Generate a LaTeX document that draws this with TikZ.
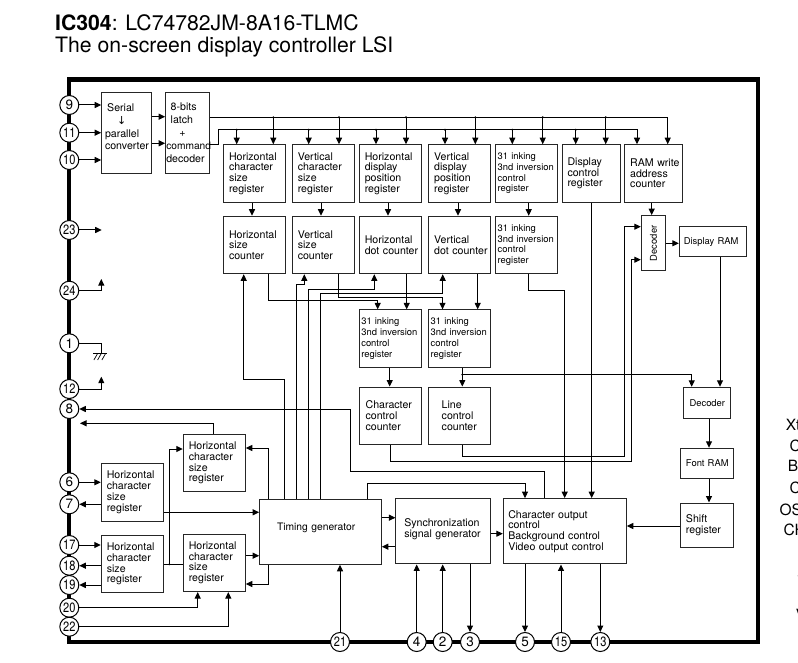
\documentclass[tikz,border=0pt]{standalone}
\usepackage{fontspec}
\setmainfont{TeX Gyre Heros}
\newfontfamily\symbolfont{DejaVu Sans}
\usetikzlibrary{arrows.meta}
\tikzset{
  sig/.style={line width=1pt, -{Triangle[length=6.5pt,width=6pt]}},
  wire/.style={line width=1pt},
  blockbox/.style={draw=black!85, line width=1pt, rectangle, inner xsep=0pt, inner ysep=0pt, align=left,
    font=\fontsize{10.6}{10.7}\selectfont},
  inset/.style={execute at begin node={\leftskip=#1\relax}},
  regbox/.style={blockbox, text width=62pt, minimum height=57.5pt, inset=5.5pt},
  smallbox/.style={regbox, inset=2pt, font=\fontsize{9.4}{10.7}\selectfont},
  pinnode/.style={draw, fill=white, circle, line width=1pt, minimum size=19pt, inner sep=0pt,
    font=\fontsize{13.5}{13.5}\selectfont},
  edgetext/.style={anchor=west, inner sep=0pt, font=\fontsize{15.5}{15.5}\selectfont},
}
\begin{document}
\begin{tikzpicture}[x=1pt, y=-1pt, line cap=butt, line join=miter]
    \useasboundingbox (0,0) rectangle (798,663);

    % title
    \node[anchor=west, inner sep=0pt, font=\fontsize{21.2}{21.2}\selectfont] (titlea) at (55,22.5) {\textbf{IC304}: LC74782JM-8A16-TLMC};
    \node[anchor=west, inner sep=0pt, font=\fontsize{21.2}{21.2}\selectfont] (titleb) at (55,47) {The on-screen display controller LSI};

    % package outline
    \draw[line width=4.2pt] (69,79.5) rectangle (758,642);

    % upper row of registers
    \node[blockbox, text width=49.6pt, minimum height=81pt, inset=3.3pt, font=\fontsize{10.6}{12.7}\selectfont] (serial) at (126.5,133.2)
        {\hspace*{2.2pt}Serial\\\hspace*{12pt}{\symbolfont\fontsize{11}{12.7}\selectfont ↓}\\parallel\\converter\\\mbox{}};
    \node[blockbox, text width=44pt, minimum height=81pt, inset=0.6pt, font=\fontsize{10.6}{13}\selectfont] (latch) at (187.7,133.2)
        {\hspace*{4.4pt}8-bits\\\hspace*{4.4pt}latch\\\hspace*{13pt}+\\{\fontsize{10.2}{13}\selectfont command}\\decoder};
    \node[regbox] (hcsr) at (254.5,173.5) {Horizontal\\character\\size\\register};
    \node[regbox] (vcsr) at (323.3,173.5) {Vertical\\character\\size\\register};
    \node[regbox] (hdpr) at (390.3,173.5) {Horizontal\\display\\position\\register};
    \node[regbox] (vdpr) at (459.7,173.5) {Vertical\\display\\position\\register};
    \node[smallbox] (inkreg) at (526.7,173.5) {31 inking\\3nd inversion\\control\\register};
    \node[regbox, text width=58pt] (dcr) at (591,173.5) {Display\\control\\register};
    \node[regbox, text width=58pt] (ramaddr) at (653.7,173.5) {RAM write\\address\\counter};

    % counters
    \node[regbox] (hsc) at (254.5,245) {Horizontal\\size\\counter};
    \node[regbox] (vsc) at (323.3,245) {Vertical\\size\\counter};
    \node[regbox] (hdc) at (390.3,245) {Horizontal\\dot counter};
    \node[regbox] (vdc) at (459.7,245) {Vertical\\dot counter};
    \node[smallbox] (inkcnt) at (526.7,245) {31 inking\\3nd inversion\\control\\register};
    \node[blockbox, text width=24.4pt, minimum height=55.3pt, align=center] (dec) at (653.5,243.3) {\rotatebox{90}{\fontsize{9.4}{10}\selectfont Decoder}};
    \node[blockbox, text width=67.4pt, minimum height=29.3pt, inset=4.5pt, font=\fontsize{9.4}{10}\selectfont] (dram) at (713,241.6) {Display RAM};

    % middle
    \node[smallbox] (inka) at (390.3,338.6) {31 inking\\3nd inversion\\control\\register};
    \node[smallbox] (inkb) at (459.7,338.6) {31 inking\\3nd inversion\\control\\register};
    \node[regbox, inset=6.3pt] (ccc) at (390.3,415.8) {Character\\control\\counter};
    \node[regbox, inset=13pt] (lcc) at (459.7,415.8) {Line\\control\\counter};
    \node[blockbox, text width=46.7pt, minimum height=31pt, align=center, font=\fontsize{9.4}{10}\selectfont] (decb) at (707.3,402.8) {Decoder};
    \node[blockbox, text width=52.7pt, minimum height=30.4pt, align=center, font=\fontsize{9.4}{10}\selectfont] (fram) at (707.3,463.5) {Font RAM};
    \node[blockbox, text width=52.7pt, minimum height=44pt, inset=5pt] (shift) at (707.3,525) {Shift\\register};

    % left column
    \node[regbox] (htop) at (214.3,463) {Horizontal\\character\\size\\register};
    \node[regbox] (hmid) at (132.3,492.3) {Horizontal\\character\\size\\register};
    \node[regbox] (hlow) at (132.3,564) {Horizontal\\character\\size\\register};
    \node[regbox] (hlowb) at (214.3,562.8) {Horizontal\\character\\size\\register};

    % lower row
    \node[blockbox, text width=121.6pt, minimum height=65pt, inset=17.3pt, font=\fontsize{10.3}{11}\selectfont, text depth=11pt] (timing) at (320.5,531.8) {Timing generator};
    \node[blockbox, text width=94.7pt, minimum height=65.3pt, inset=8.3pt, text depth=17pt] (sync) at (443.3,531.3) {Synchronization\\signal generator};
    \node[blockbox, text width=123pt, minimum height=65.3pt, inset=5pt] (charout) at (564.8,531.3) {Character output\\control\\Background control\\Video output control};

    % cut off at the edge of the page
    \node[edgetext] (edgea) at (785.7,425) {Xt};
    \node[edgetext] (edgeb) at (789.3,445.7) {C};
    \node[edgetext] (edgec) at (787.7,465.7) {Bl};
    \node[edgetext] (edged) at (789.3,488) {C};
    \node[edgetext] (edgee) at (779.3,510) {OS};
    \node[edgetext] (edgef) at (783.3,530) {CH};
    \node[edgetext] (edgeg) at (796.8,574) {S};
    \node[edgetext] (edgeh) at (795.7,614.5) {V};

    % pins
    \foreach \n/\y in {9/105, 11/132.7, 10/160, 23/230, 24/290.7, 1/343.3, 12/389, 8/409, 6/482.3, 7/504.3, 17/545, 18/565.7, 19/585, 20/607.7, 22/626.7}
        \node[pinnode] (p\n) at (69.3,\y) {\ifnum\n>9 \scalebox{0.82}[1]{\n}\else\n\fi};
    \foreach \n/\x in {21/340, 4/416.7, 2/442.7, 3/470, 5/525, 15/561, 13/600.3}
        \node[pinnode] (p\n) at (\x,642) {\ifnum\n>9 \scalebox{0.82}[1]{\n}\else\n\fi};

    % serial input
    \foreach \n in {9, 11, 10} \draw[sig] (p\n) -- (p\n -| serial.west);
    \draw[sig] (serial.east |- 0,116.7) -- (latch.west |- 0,116.7);
    \draw[sig] (serial.east |- 0,143.3) -- (latch.west |- 0,143.3);

    % the two buses
    \draw[sig] (latch.east |- 0,117.3) -- (667.7,117.3) -- (667.7,0 |- ramaddr.north);
    \draw[sig] (latch.east |- 0,144.7) -- (218.3,144.7) -- (218.3,129.7) -- (637,129.7) -- (637,0 |- ramaddr.north);
    \foreach \x/\b in {273.3/hcsr, 339/vcsr, 406/hdpr, 475.3/vdpr, 542.7/inkreg, 605.7/dcr} {
        \draw[sig] (\x,117.3) -- (\x,0 |- \b.north);
        \fill (\x,117.3) circle (1.1pt);
    }
    \foreach \x/\b in {236.7/hcsr, 308.7/vcsr, 376/hdpr, 445/vdpr, 512.3/inkreg, 575.7/dcr} {
        \draw[sig] (\x,129.7) -- (\x,0 |- \b.north);
        \fill (\x,129.7) circle (1.1pt);
    }

    % registers to counters
    \foreach \x/\a/\b in {252/hcsr/hsc, 321/vcsr/vsc, 388/hdpr/hdc, 458/vdpr/vdc, 528.7/inkreg/inkcnt, 651.7/ramaddr/dec}
        \draw[sig] (\x,0 |- \a.south) -- (\x,0 |- \b.north);
    \draw[sig] (dec) -- (dec -| dram.west);

    % counters to the inking registers
    \draw[sig] (268,0 |- hsc.south) -- (268,300) -- (377.7,300) -- (377.7,0 |- inka.north);
    \draw[sig] (338,0 |- vsc.south) -- (338,297.3) -- (442.5,297.3) -- (442.5,0 |- inkb.north);
    \draw[sig] (406.7,0 |- hdc.south) -- (406.7,0 |- inka.north);
    \draw[sig] (477.7,0 |- vdc.south) -- (477.7,0 |- inkb.north);
    \draw[sig] (389.7,0 |- inka.south) -- (389.7,0 |- ccc.north);
    \draw[sig] (462.3,0 |- inkb.south) -- (462.3,0 |- lcc.north);
    \fill (462.3,374.7) circle (1.1pt);
    \draw[sig] (462.3,374.7) -- (691.7,374.7) -- (691.7,0 |- decb.north);

    % timing generator up to the counters
    \draw[sig] (284.3,0 |- timing.north) -- (284.3,379.3) -- (243.7,379.3) -- (243.7,0 |- hsc.south);
    \draw[sig] (296.3,0 |- timing.north) -- (296.3,284.3) -- (304.3,284.3) -- (304.3,0 |- vsc.south);
    \draw[sig] (308,0 |- timing.north) -- (308,289.3) -- (374.3,289.3) -- (374.3,0 |- hdc.south);
    \draw[sig] (320,0 |- timing.north) -- (320,293.5) -- (442.7,293.5) -- (442.7,0 |- vdc.south);

    % control lines to the output block
    \draw[sig] (528.7,0 |- inkcnt.south) -- (528.7,290) -- (564.7,290) -- (564.7,0 |- charout.north);
    \draw[sig] (591.7,0 |- dcr.south) -- (591.7,0 |- charout.north);
    \draw[sig] (367,0 |- timing.north) -- (367,483.7) -- (525,483.7) -- (525,0 |- charout.north);
    \draw[sig] (544.7,0 |- charout.north) -- (544.7,471.7) -- (350,471.7) -- (350,0 |- p8) -- (p8);

    % counters to the decoder
    \draw[sig] (462.3,0 |- lcc.south) -- (462.3,456.7) -- (624.3,456.7) -- (624.3,226.7) -- (dec.west |- 0,226.7);
    \draw[sig] (390,0 |- ccc.south) -- (390,461.7) -- (631.7,461.7) -- (631.7,259.7) -- (dec.west |- 0,259.7);

    % font path
    \draw[sig] (720,0 |- dram.south) -- (720,0 |- decb.north);
    \draw[sig] (709,0 |- decb.south) -- (709,0 |- fram.north);
    \draw[sig] (709,0 |- fram.south) -- (709,0 |- shift.north);
    \draw[sig] (shift.west |- 0,526) -- (charout.east |- 0,526);
    \draw[sig] (sync.east |- 0,533.7) -- (charout.west |- 0,533.7);
    \draw[sig] (timing.east |- 0,517.7) -- (sync.west |- 0,517.7);
    \draw[sig] (sync.west |- 0,546.7) -- (timing.east |- 0,546.7);

    % left side
    \draw[sig] (p23) -- (101.7,230);
    \draw[sig] (p24) -- (101.3,290.7) -- (101.3,279);
    \draw[sig] (p12) -- (101.3,389) -- (101.3,376.7);
    \draw[wire] (p1) -- (101.3,343.3) -- (101.3,353.5);
    \draw[wire] (93.3,353.5) -- (106.7,353.5);
    \foreach \x in {97.3, 101, 105.3} \draw[line width=0.7pt] (\x,354) -- (\x-3.4,360);

    \draw[sig] (htop.north -| 213.3,0) -- (213.3,423.3) -- (80,423.3);
    \draw[sig] (268.7,0 |- timing.north) -- (268.7,448) -- (htop.east |- 0,448);
    \draw[wire] (hlow.east |- 0,564.3) -- (hlowb.west |- 0,564.3);
    \fill (169.3,564.3) circle (1.1pt);
    \draw[sig] (169.3,564.3) -- (169.3,449) -- (htop.west |- 0,449);
    \draw[sig] (p6) -- (p6 -| hmid.west);
    \draw[sig] (hmid.west |- p7) -- (p7);
    \draw[sig] (hmid.east |- 0,512.3) -- (timing.west |- 0,512.3);
    \draw[sig] (p17) -- (p17 -| hlow.west);
    \draw[sig] (hlow.west |- p18) -- (p18);
    \draw[sig] (hlow.west |- p19) -- (p19);
    \draw[sig] (hlowb.east |- 0,555.7) -- (timing.west |- 0,555.7);
    \draw[sig] (268.3,0 |- timing.south) -- (268.3,584) -- (hlowb.east |- 0,584);
    \draw[sig] (p20) -- (197.7,0 |- p20) -- (197.7,0 |- hlowb.south);
    \draw[sig] (p22) -- (228.3,0 |- p22) -- (228.3,0 |- hlowb.south);

    % bottom side
    \foreach \n/\b in {21/timing, 4/sync, 2/sync, 15/charout}
        \draw[sig] (p\n) -- (p\n |- \b.south);
    \foreach \n/\b in {3/sync, 5/charout, 13/charout}
        \draw[sig] (p\n |- \b.south) -- (p\n);
\end{tikzpicture}
\end{document}
